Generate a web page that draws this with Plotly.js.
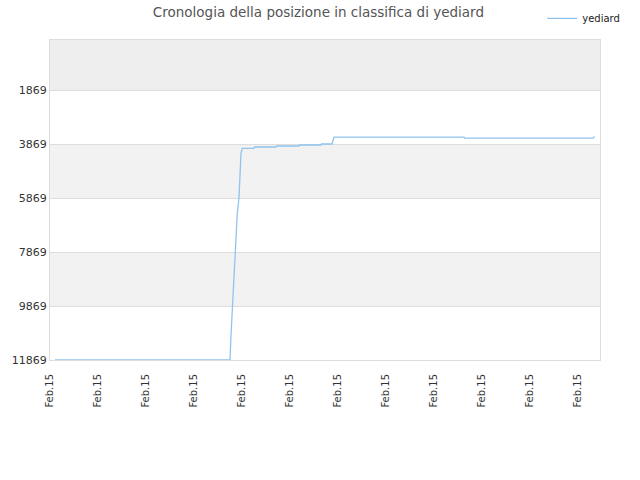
<!DOCTYPE html>
<html><head><meta charset="utf-8">
<script src="https://cdn.plot.ly/plotly-3.0.1.min.js"></script>
<style>html,body{margin:0;padding:0;background:#fff}#c{width:640px;height:480px}</style>
</head><body><div id="c"></div>
<script>
// time position (in tick-spacing units) and ranking
const timePos = [0.104, 3.75, 3.771, 3.806, 3.833, 3.869, 3.902, 3.938, 3.958, 3.979, 4.006, 4.25, 4.26, 4.708, 4.719, 5.188, 5.198, 5.646, 5.656, 5.875, 5.917, 8.625, 8.635, 11.313, 11.344];
const ranks   = [11869, 11869, 10943, 9647, 8906, 7795, 6425, 5832, 5091, 4202, 4017, 4017, 3969, 3969, 3932, 3932, 3895, 3895, 3858, 3858, 3599, 3599, 3636, 3636, 3573];
const yTicks = [1869, 3869, 5869, 7869, 9869, 11869];
const yTickText = yTicks.map(String);
const xTickVals = [0,1,2,3,4,5,6,7,8,9,10,11];
const xTickText = xTickVals.map(() => 'Feb.15');
const seriesName = 'yediard';

const shapes = [];
const bandEdges = [0].concat(yTicks);
for (let i = 0; i < bandEdges.length - 1; i++) {
  let fill = null;
  if (i === 0) fill = '#eeeeee';
  else if (i % 2 === 0) fill = '#f2f2f2';
  if (fill) shapes.push({type:'rect', xref:'paper', yref:'y', x0:0, x1:1, y0:bandEdges[i], y1:bandEdges[i+1], fillcolor:fill, line:{width:0}, layer:'below'});
}

Plotly.newPlot('c', [{
  x: timePos, y: ranks, type:'scatter', mode:'lines', name: seriesName,
  line:{color:'#90c3f0', width:1.3}
}], {
  width:640, height:480,
  margin:{l:50, r:40, t:40, b:120, autoexpand:false},
  paper_bgcolor:'#fff', plot_bgcolor:'#fff',
  title:{text:'Cronologia della posizione in classifica di yediard', x:0.488, xref:'paper', y:0.985, yanchor:'top', xanchor:'center', font:{family:'DejaVu Sans, sans-serif', size:13.5, color:'#555'}},
  showlegend:true,
  legend:{x:0.895, y:1.113, xanchor:'left', yanchor:'top', itemwidth:30, font:{family:'DejaVu Sans, sans-serif', size:10, color:'#222'}, bgcolor:'rgba(0,0,0,0)'},
  xaxis:{range:[0, 550/48], tickvals:xTickVals, ticktext:xTickText, tickangle:-90, showgrid:false, zeroline:false,
    showline:true, mirror:true, linecolor:'#dddddd', linewidth:1, ticks:'', ticklabelstandoff:9, tickfont:{family:'DejaVu Sans, sans-serif', size:10, color:'#333'}},
  yaxis:{range:[11869, 0], tickvals:yTicks, ticktext:yTickText, showgrid:true, gridcolor:'#dddddd', zeroline:false,
    showline:true, mirror:true, linecolor:'#dddddd', linewidth:1, ticks:'', tickfont:{family:'DejaVu Sans, sans-serif', size:11, color:'#333'}},
  shapes: shapes
}, {displayModeBar:false});
</script></body></html>
